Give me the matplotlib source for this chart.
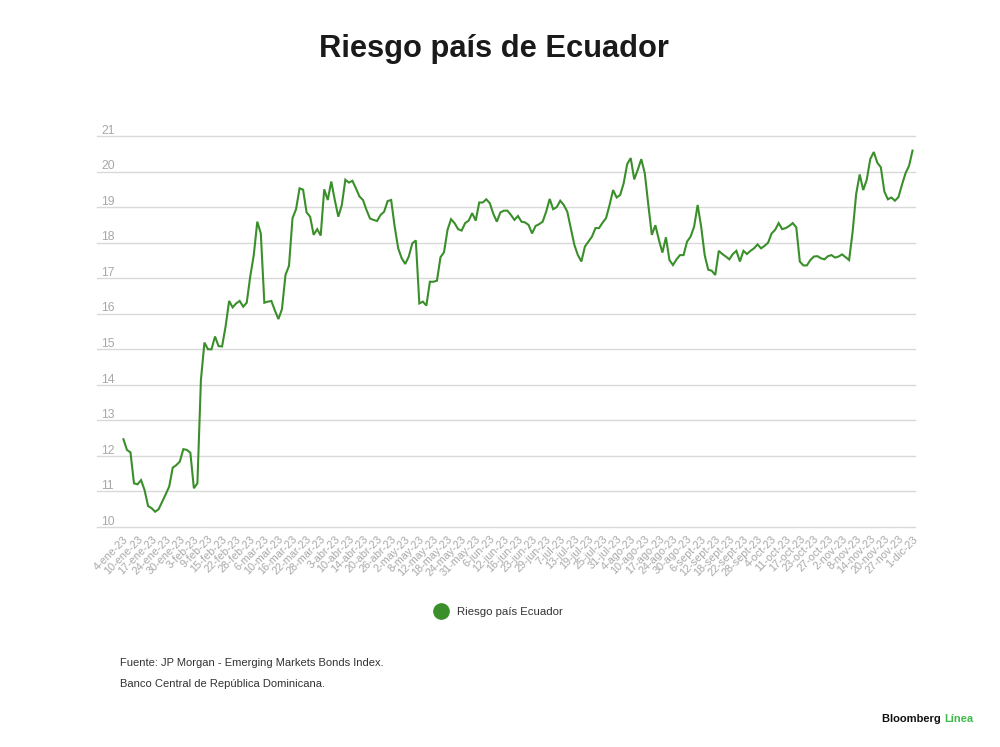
import matplotlib.pyplot as plt
from matplotlib.lines import Line2D
from matplotlib.transforms import blended_transform_factory, offset_copy

# Riesgo pais Ecuador, daily values (4-ene-23 .. 1-dic-23)
riesgo = [
    12.47, 12.17, 12.10, 11.23, 11.20, 11.32, 11.04, 10.59, 10.53, 10.43,
    10.50, 10.71, 10.92, 11.14, 11.67, 11.74, 11.84, 12.19, 12.17, 12.09,
    11.09, 11.23, 14.14, 15.19, 15.00, 15.00, 15.36, 15.09, 15.08, 15.64,
    16.36, 16.18, 16.29, 16.36, 16.20, 16.31, 17.05, 17.65, 18.59, 18.26,
    16.31, 16.34, 16.36, 16.09, 15.85, 16.13, 17.09, 17.35, 18.69, 18.94,
    19.53, 19.49, 18.85, 18.73, 18.22, 18.38, 18.20, 19.50, 19.20, 19.72,
    19.20, 18.73, 19.06, 19.77, 19.69, 19.74, 19.53, 19.30, 19.20, 18.92,
    18.68, 18.64, 18.61, 18.78, 18.87, 19.17, 19.20, 18.45, 17.84, 17.56,
    17.40, 17.61, 17.98, 18.06, 16.29, 16.34, 16.23, 16.90, 16.90, 16.93,
    17.59, 17.73, 18.36, 18.66, 18.55, 18.38, 18.34, 18.55, 18.62, 18.83,
    18.62, 19.13, 19.13, 19.22, 19.11, 18.81, 18.59, 18.85, 18.90, 18.90,
    18.78, 18.64, 18.75, 18.59, 18.57, 18.50, 18.26, 18.47, 18.52, 18.59,
    18.87, 19.23, 18.94, 19.00, 19.18, 19.06, 18.87, 18.41, 17.94, 17.65,
    17.47, 17.89, 18.03, 18.17, 18.41, 18.41, 18.56, 18.69, 19.06, 19.48,
    19.27, 19.34, 19.67, 20.21, 20.38, 19.78, 20.05, 20.35, 19.95, 19.06,
    18.22, 18.49, 18.08, 17.72, 18.15, 17.51, 17.37, 17.53, 17.65, 17.65,
    18.03, 18.17, 18.45, 19.06, 18.45, 17.65, 17.24, 17.21, 17.09, 17.77,
    17.68, 17.61, 17.53, 17.68, 17.77, 17.47, 17.77, 17.68, 17.77, 17.84,
    17.95, 17.84, 17.91, 18.00, 18.26, 18.36, 18.55, 18.38, 18.41, 18.47,
    18.55, 18.43, 17.47, 17.36, 17.36, 17.51, 17.61, 17.62, 17.56, 17.53,
    17.62, 17.65, 17.58, 17.61, 17.67, 17.59, 17.51, 18.31, 19.37, 19.92,
    19.48, 19.77, 20.35, 20.55, 20.25, 20.12, 19.44, 19.22, 19.27, 19.18,
    19.28, 19.63, 19.95, 20.16, 20.59,
]

# one label every 4 points
fechas = [
    "4-ene-23", "10-ene-23", "17-ene-23", "24-ene-23", "30-ene-23", "3-feb-23",
    "9-feb-23", "15-feb-23", "22-feb-23", "28-feb-23", "6-mar-23", "10-mar-23",
    "16-mar-23", "22-mar-23", "28-mar-23", "3-abr-23", "10-abr-23", "14-abr-23",
    "20-abr-23", "26-abr-23", "2-may-23", "8-may-23", "12-may-23", "18-may-23",
    "24-may-23", "31-may-23", "6-jun-23", "12-jun-23", "16-jun-23", "23-jun-23",
    "29-jun-23", "7-jul-23", "13-jul-23", "19-jul-23", "25-jul-23", "31-jul-23",
    "4-ago-23", "10-ago-23", "17-ago-23", "24-ago-23", "30-ago-23", "6-sept-23",
    "12-sept-23", "18-sept-23", "22-sept-23", "28-sept-23", "4-oct-23",
    "11-oct-23", "17-oct-23", "23-oct-23", "27-oct-23", "2-nov-23", "8-nov-23",
    "14-nov-23", "20-nov-23", "27-nov-23", "1-dic-23",
]
yticks = list(range(10, 22))

VERDE = "#3a8f2b"
GRIS = "#a8a8a8"

plt.rcParams["font.family"] = ["Liberation Sans", "DejaVu Sans"]

fig = plt.figure(figsize=(10, 7.47), dpi=100)
ax = fig.add_axes([0.097, 0.2945, 0.818, 0.5234])

x = list(range(len(riesgo)))
ax.plot(x, riesgo, color=VERDE, lw=1.5, solid_joinstyle="miter", clip_on=False, zorder=3)

ax.set_xlim(-7.5, len(riesgo) - 0.3)
ax.set_ylim(10, 21)

for v in yticks:
    ax.axhline(v, color="#d9d9d9", lw=1.0, zorder=1, clip_on=False)

ax.set_yticks([])
trans = offset_copy(blended_transform_factory(ax.transAxes, ax.transData),
                    fig=fig, x=3, y=-0.5, units="points")
for v in yticks:
    ax.text(0.0, v, str(v), transform=trans, ha="left", va="bottom",
            fontsize=8.8, color=GRIS)

ax.set_xticks(x[::4])
ax.set_xticklabels(fechas, rotation=45, ha="right", va="top",
                   rotation_mode="anchor", fontsize=7.8, color=GRIS)
ax.tick_params(axis="x", length=0, pad=5)
for s in ax.spines.values():
    s.set_visible(False)

fig.text(0.4935, 0.935, "Riesgo país de Ecuador", ha="center", va="center",
         fontsize=22.2, fontweight="bold", color="#1a1a1a")

handle = Line2D([], [], ls="none", marker="o", markersize=11,
                markerfacecolor=VERDE, markeredgecolor=VERDE)
fig.legend([handle], ["Riesgo país Ecuador"], loc="center",
           bbox_to_anchor=(0.496, 1 - 612 / 747), frameon=False,
           fontsize=8.2, handletextpad=0.4, labelcolor="#333333")

fig.text(0.12, 1 - 663 / 747, "Fuente: JP Morgan - Emerging Markets Bonds Index.",
         fontsize=8.0, color="#333333", va="center")
fig.text(0.12, 1 - 684 / 747, "Banco Central de República Dominicana.",
         fontsize=8.0, color="#333333", va="center")

t = fig.text(0.882, 1 - 719 / 747, "Bloomberg ", fontsize=8.0, fontweight="bold",
             color="#111111", va="center")
fig.canvas.draw()
bb = t.get_window_extent()
fig.text(bb.x1 / fig.bbox.width, 1 - 719 / 747, "Línea", fontsize=8.0,
         fontweight="bold", color="#3dbb4a", va="center")

fig.savefig("out.png", dpi=100, facecolor="white")
